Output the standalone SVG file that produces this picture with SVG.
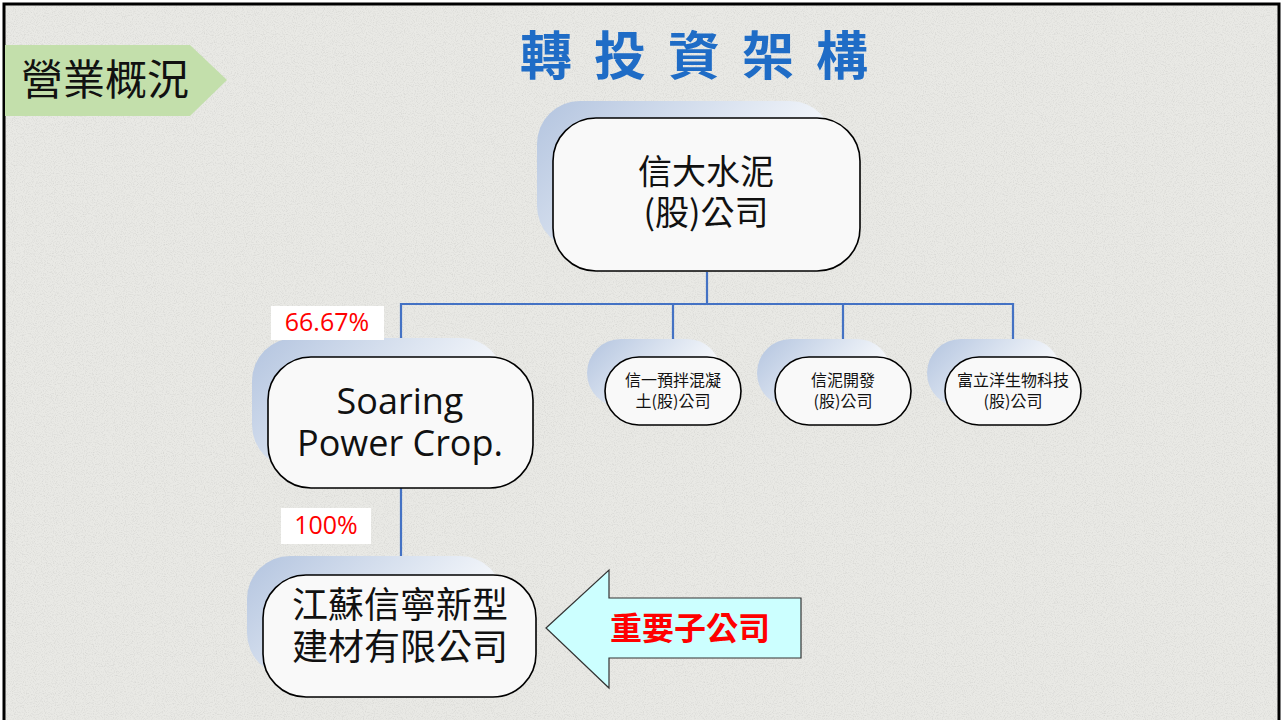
<svg xmlns="http://www.w3.org/2000/svg" width="1283" height="720" viewBox="0 0 1283 720">
<defs>
<linearGradient id="sh" x1="0" y1="0" x2="1" y2="0.5">
<stop offset="0" stop-color="#b3c4df"/>
<stop offset="0.55" stop-color="#dde5f1"/>
<stop offset="1" stop-color="#ffffff"/>
</linearGradient>
<filter id="noise" x="0" y="0" width="100%" height="100%">
<feTurbulence type="fractalNoise" baseFrequency="0.9" numOctaves="2" seed="3" result="t"/>
<feColorMatrix in="t" type="matrix" values="0 0 0 0 0.6  0 0 0 0 0.6  0 0 0 0 0.58  0 0 0 2.2 -1.0" result="n"/>
<feComposite in="n" in2="SourceGraphic" operator="in"/>
</filter>
<style>
.node{fill:#f9f9f9;stroke:#000;stroke-width:1.6}
.shadow{fill:url(#sh)}
.cjk{font-family:"Noto Sans CJK TC","Noto Sans CJK SC",sans-serif;fill:#111;text-anchor:middle}
.lat{font-family:"Open Sans","Noto Sans",sans-serif;fill:#111;text-anchor:middle}
.pct{font-family:"Open Sans","Noto Sans",sans-serif;fill:#ff0000;font-size:25px;text-anchor:middle}
.conn{fill:none;stroke:#4472c4;stroke-width:2.2}
</style>
</defs>
<rect x="0" y="0" width="1283" height="720" fill="#ffffff"/>
<rect x="4" y="4" width="1275" height="720" fill="#e9e9e5"/>
<rect x="4" y="4" width="1275" height="720" fill="#000" filter="url(#noise)" opacity="0.6"/>
<rect x="4" y="4" width="1275" height="720" fill="none" stroke="#000" stroke-width="3"/>

<g id="section-tag">
<polygon points="5,45 190,45 227,80 190,116 5,116" fill="#c3dfab"/>
<text x="105" y="95" class="cjk" font-size="42">營業概況</text>
</g>

<g id="title">
<text x="705" y="75" font-family="Noto Sans CJK TC, sans-serif" font-weight="bold" font-size="52" fill="#1f6cc6" text-anchor="middle" letter-spacing="22">轉投資架構</text>
</g>

<g id="connectors">
<polyline class="conn" points="707,272 707,304"/>
<polyline class="conn" points="401,357 401,304 1013,304 1013,357"/>
<polyline class="conn" points="673,304 673,357"/>
<polyline class="conn" points="843,304 843,357"/>
<polyline class="conn" points="401,488 401,575"/>
</g>

<g id="node-xinda">
<rect class="shadow" x="537" y="101" width="296" height="148" rx="43"/>
<rect class="node" x="553" y="118" width="307" height="153" rx="43"/>
<text x="706" y="184" class="cjk" font-size="34">信大水泥</text>
<text x="706" y="225" class="cjk" font-size="34">(股)公司</text>
</g>

<g id="node-soaring">
<rect class="shadow" x="252" y="338" width="252" height="130" rx="43"/>
<rect class="node" x="268" y="357" width="265" height="131" rx="43"/>
<text x="400" y="414" class="lat" font-size="36">Soaring</text>
<text x="400" y="456" class="lat" font-size="36">Power Crop.</text>
</g>

<g id="label-6667">
<rect x="271" y="306" width="113" height="34" fill="#ffffff"/>
<text x="327" y="331" class="pct">66.67%</text>
</g>

<g id="node-xinyi">
<rect class="shadow" x="587" y="339" width="134" height="68" rx="34"/>
<rect class="node" x="605" y="357" width="136" height="68" rx="34"/>
<text x="673" y="386" class="cjk" font-size="16">信一預拌混凝</text>
<text x="673" y="407" class="cjk" font-size="16">土(股)公司</text>
</g>

<g id="node-xinni">
<rect class="shadow" x="757" y="339" width="134" height="68" rx="34"/>
<rect class="node" x="775" y="357" width="136" height="68" rx="34"/>
<text x="843" y="386" class="cjk" font-size="16">信泥開發</text>
<text x="843" y="407" class="cjk" font-size="16">(股)公司</text>
</g>

<g id="node-fuliyang">
<rect class="shadow" x="927" y="339" width="134" height="68" rx="34"/>
<rect class="node" x="945" y="357" width="136" height="68" rx="34"/>
<text x="1013" y="386" class="cjk" font-size="16">富立洋生物科技</text>
<text x="1013" y="407" class="cjk" font-size="16">(股)公司</text>
</g>

<g id="label-100">
<rect x="281" y="508" width="90" height="36" fill="#ffffff"/>
<text x="326" y="534" class="pct">100%</text>
</g>

<g id="node-jiangsu">
<rect class="shadow" x="247" y="556" width="256" height="120" rx="43"/>
<rect class="node" x="263" y="575" width="273" height="122" rx="43"/>
<text x="400" y="618" class="cjk" font-size="36">江蘇信寧新型</text>
<text x="400" y="660" class="cjk" font-size="36">建材有限公司</text>
</g>

<g id="arrow-callout">
<polygon points="546,628 609,570 609,598 801,598 801,658 609,658 609,688" fill="#ccffff" stroke="#333" stroke-width="1.2"/>
<text x="690" y="640" font-family="Noto Sans CJK TC, sans-serif" font-weight="bold" font-size="32" fill="#ff0000" text-anchor="middle">重要子公司</text>
</g>
</svg>
